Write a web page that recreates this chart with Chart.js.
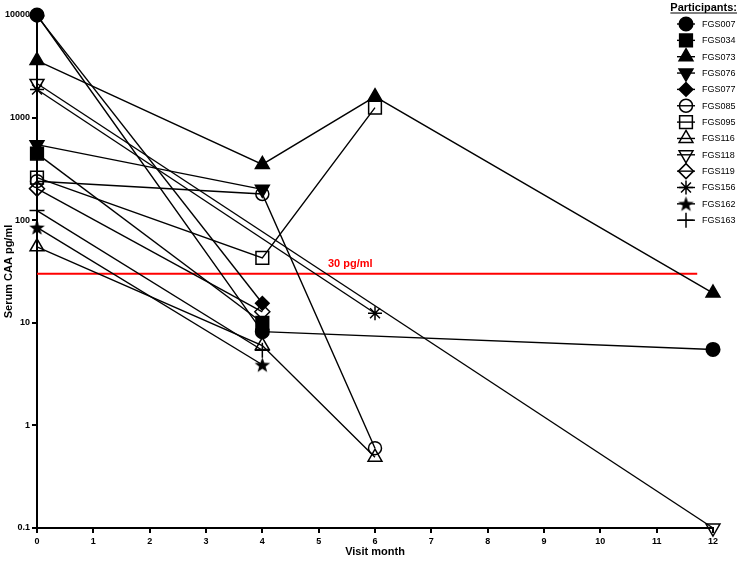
<!DOCTYPE html>
<html>
<head>
<meta charset="utf-8">
<script src="https://cdn.jsdelivr.net/npm/chart.js@4/dist/chart.umd.min.js"></script>
<style>
html,body{margin:0;padding:0;background:#fff;}
canvas{display:block;}
</style>
</head>
<body>
<canvas id="c" width="740" height="563"></canvas>
<script>
// ---- data ----
const visitMonths = [0, 4, 6, 12];
const yTickValues = [0.1, 1, 10, 100, 1000, 10000];
const participants = ['FGS007','FGS034','FGS073','FGS076','FGS077','FGS085','FGS095','FGS116','FGS118','FGS119','FGS156','FGS162','FGS163'];
const FGS007 = [10000, 8.2, null, 5.5];
const FGS034 = [446, 10, null, null];
const FGS073 = [3600, 350, 1600, 19.5];
const FGS076 = [545, 200, null, null];
const FGS077 = [9800, 15.5, null, null];
const FGS085 = [240, 180, 0.6, null];
const FGS095 = [260, 43, 1250, null];
const FGS116 = [55, 6.0, 0.49, null];
const FGS118 = [2150, null, null, 0.1];
const FGS119 = [203, 12.8, null, null];
const FGS156 = [1880, null, 12.4, null];
const FGS162 = [85, 3.9, null, null];
const FGS163 = [124, 5.4, null, null];
const seriesValues = [FGS007, FGS034, FGS073, FGS076, FGS077, FGS085, FGS095, FGS116, FGS118, FGS119, FGS156, FGS162, FGS163];
const thresholdValue = 30;
const thresholdLabel = '30 pg/ml';

// ---- styles ----
function makeStar(){
  const c = document.createElement('canvas');
  c.width = 17; c.height = 17;
  const g = c.getContext('2d');
  g.fillStyle = '#000';
  g.beginPath();
  const R = 8.2, r = 3.4, cx = 8.5, cy = 9.2;
  for (let i = 0; i < 10; i++) {
    const rad = (i % 2 === 0) ? R : r;
    const a = -Math.PI / 2 + i * Math.PI / 5;
    const px = cx + rad * Math.cos(a), py = cy + rad * Math.sin(a);
    if (i === 0) g.moveTo(px, py); else g.lineTo(px, py);
  }
  g.closePath();
  g.fill();
  return c;
}
const starImg = makeStar();
const FILL = '#000', OPEN = 'rgba(0,0,0,0)';
const markerStyles = [
  {s:'circle', r:6.8, f:FILL, rot:0},
  {s:'rect', r:9, f:FILL, rot:0},
  {s:'triangle', r:8, f:FILL, rot:0},
  {s:'triangle', r:8, f:FILL, rot:180},
  {s:'rectRot', r:6.8, f:FILL, rot:0},
  {s:'circle', r:6.5, f:OPEN, rot:0},
  {s:'rect', r:9, f:OPEN, rot:0},
  {s:'triangle', r:8, f:OPEN, rot:0},
  {s:'triangle', r:8, f:OPEN, rot:180},
  {s:'rectRot', r:7.5, f:OPEN, rot:0},
  {s:'star', r:7, f:OPEN, rot:0},
  {s:starImg, r:8, f:FILL, rot:0},
  {s:'cross', r:7.5, f:OPEN, rot:0}
];

const FONT = "'Liberation Sans', Arial, sans-serif";

const datasets = participants.map((name, i) => {
  const st = markerStyles[i];
  const pts = [];
  seriesValues[i].forEach((v, j) => { if (v !== null) pts.push({x: visitMonths[j], y: v}); });
  return {
    label: name,
    data: pts,
    borderColor: '#000',
    borderWidth: 1.4,
    backgroundColor: st.f,
    pointStyle: st.s,
    pointRadius: st.r,
    pointHoverRadius: st.r,
    pointRotation: st.rot,
    pointBackgroundColor: st.f,
    pointBorderColor: '#000',
    pointBorderWidth: 1.5,
    tension: 0,
    fill: false,
    clip: false
  };
});
datasets.push({
  label: 'threshold',
  data: [{x: 0, y: thresholdValue}, {x: 11.72, y: thresholdValue}],
  borderColor: '#ff0000',
  borderWidth: 2,
  pointRadius: 0,
  fill: false,
  clip: false
});

const overlayPlugin = {
  id: 'overlay',
  afterDraw(chart) {
    const ctx = chart.ctx;
    const xs = chart.scales.x, ys = chart.scales.y;
    // threshold label
    ctx.save();
    ctx.fillStyle = '#ff0000';
    ctx.font = 'bold 11px ' + FONT;
    ctx.textAlign = 'center';
    ctx.textBaseline = 'bottom';
    ctx.fillText(thresholdLabel, xs.getPixelForValue(5.56), ys.getPixelForValue(thresholdValue) - 4);
    ctx.restore();

    // legend
    ctx.save();
    ctx.fillStyle = '#000';
    ctx.font = 'bold 11px ' + FONT;
    ctx.textAlign = 'right';
    ctx.textBaseline = 'middle';
    const title = 'Participants:';
    const tx = 737, ty = 7.5;
    ctx.fillText(title, tx, ty);
    const tw = ctx.measureText(title).width;
    ctx.fillRect(tx - tw, ty + 5, tw, 1);
    const mx = 686, lx = 702, y0 = 24, dy = 16.35;
    participants.forEach((name, i) => {
      const st = markerStyles[i];
      const y = y0 + i * dy;
      ctx.strokeStyle = '#000';
      ctx.lineWidth = 1.4;
      ctx.beginPath();
      ctx.moveTo(mx - 9, y); ctx.lineTo(mx + 9, y);
      ctx.stroke();
      ctx.fillStyle = st.f;
      ctx.lineWidth = 1.5;
      Chart.helpers.drawPoint(ctx, {pointStyle: st.s, rotation: st.rot, radius: st.r, borderWidth: 1.5}, mx, y);
      ctx.fillStyle = '#000';
      ctx.font = '9px ' + FONT;
      ctx.textAlign = 'left';
      ctx.fillText(name, lx, y + 0.5);
    });
    ctx.restore();
  }
};

new Chart(document.getElementById('c'), {
  type: 'line',
  data: { datasets },
  plugins: [overlayPlugin],
  options: {
    responsive: false,
    animation: false,
    devicePixelRatio: 1,
    layout: { padding: { left: 0, right: 27, top: 15, bottom: 0 } },
    plugins: { legend: { display: false }, tooltip: { enabled: false } },
    scales: {
      x: {
        type: 'linear',
        min: 0, max: 12,
        afterFit(s) { s.height = 35; },
        ticks: { stepSize: 1, color: '#000', font: { family: FONT, size: 9, weight: 'bold' }, padding: 3, maxRotation: 0 },
        grid: { display: true, drawOnChartArea: false, drawTicks: true, tickLength: 5, color: '#000', lineWidth: 2 },
        border: { display: true, color: '#000', width: 2 },
        title: { display: true, text: 'Visit month', color: '#000', font: { family: FONT, size: 11, weight: 'bold' }, padding: { top: 2, bottom: 4 } }
      },
      y: {
        type: 'logarithmic',
        min: 0.1, max: 10000,
        afterFit(s) { s.width = 37; },
        afterBuildTicks(s) { s.ticks = yTickValues.map(v => ({ value: v })); },
        ticks: {
          color: '#000', font: { family: FONT, size: 9, weight: 'bold' }, padding: 2,
          callback(v) { return String(v); }
        },
        grid: { display: true, drawOnChartArea: false, drawTicks: true, tickLength: 5, color: '#000', lineWidth: 2 },
        border: { display: true, color: '#000', width: 2 },
        title: { display: true, text: 'Serum CAA pg/ml', color: '#000', font: { family: FONT, size: 11, weight: 'bold' }, padding: { top: 2, bottom: 2 } }
      }
    }
  }
});
</script>
</body>
</html>
